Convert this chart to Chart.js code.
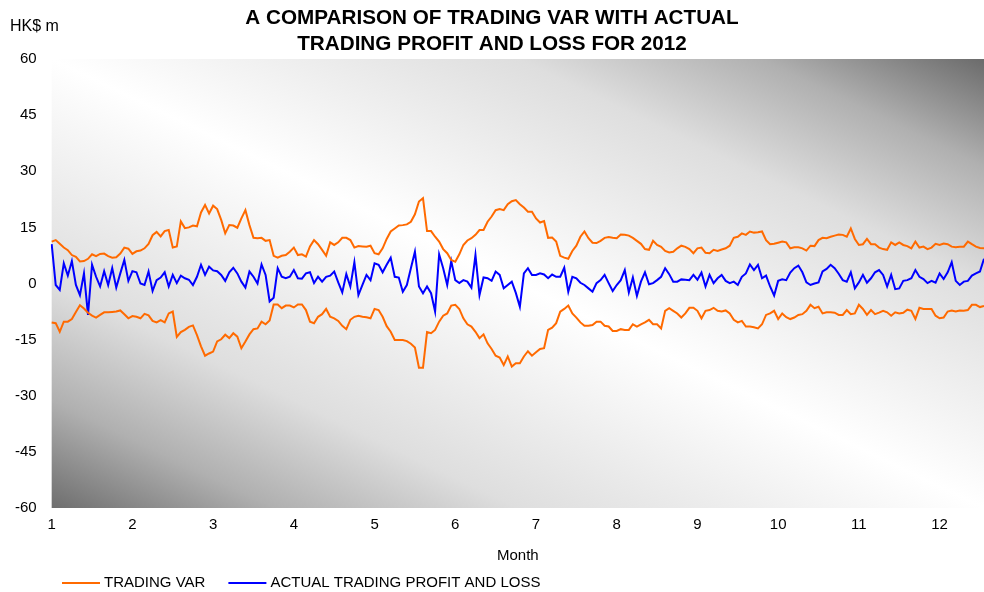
<!DOCTYPE html>
<html>
<head>
<meta charset="utf-8">
<script src="https://cdn.jsdelivr.net/npm/chart.js@4.4.1/dist/chart.umd.min.js"></script>
<style>
  html, body { margin: 0; padding: 0; background: #fff; }
  canvas { display: block; }
</style>
</head>
<body>
<canvas id="varChart" width="984" height="592"></canvas>
<script>
// month tick labels, one every 20 trading days
const monthLabels = ['1', '2', '3', '4', '5', '6', '7', '8', '9', '10', '11', '12'];
const daysPerMonth = 20;

// trading VaR, upper band (HK$ m)
const varHigh = [
  11.2, 11.6, 10.6, 9.6, 8.9, 7.6, 7.1, 5.9, 6.0, 6.6,
  7.8, 7.3, 7.9, 8.0, 7.3, 6.9, 7.0, 8.0, 9.6, 9.3,
  7.9, 8.6, 8.8, 9.4, 10.6, 12.9, 13.8, 12.6, 14.0, 14.3,
  9.6, 9.9, 16.6, 14.8, 15.0, 15.5, 15.3, 19.0, 21.0, 18.7,
  20.8, 19.9, 17.0, 13.4, 15.6, 15.5, 14.9, 17.4, 19.6, 15.6,
  12.2, 12.1, 12.2, 11.4, 11.6, 7.4, 6.9, 7.4, 7.6, 8.5,
  9.6, 7.6, 7.8, 7.2, 9.9, 11.6, 10.5, 9.0, 7.4, 11.0,
  10.3, 11.0, 12.2, 12.2, 11.6, 9.6, 10.0, 9.9, 9.8, 10.1,
  8.1, 7.8, 9.4, 11.9, 13.9, 14.7, 15.5, 15.6, 15.8, 16.5,
  18.5, 21.9, 22.8, 14.0, 14.0, 12.5, 11.2, 9.2, 8.1, 6.3,
  5.8, 7.8, 10.3, 11.5, 12.1, 13.0, 14.3, 14.3, 16.5, 17.9,
  19.6, 19.9, 19.6, 21.2, 22.0, 22.3, 21.2, 20.3, 19.2, 19.2,
  17.4, 16.3, 16.7, 12.2, 12.3, 11.2, 7.4, 6.9, 6.6, 8.7,
  10.1, 12.5, 13.9, 12.1, 10.9, 10.8, 11.4, 12.2, 12.4, 12.2,
  12.1, 13.1, 13.0, 12.8, 12.2, 11.4, 10.6, 9.2, 9.0, 11.4,
  10.3, 9.8, 8.7, 8.3, 8.5, 9.4, 10.1, 9.8, 9.2, 8.1,
  9.4, 9.6, 8.2, 8.1, 9.0, 8.7, 9.1, 9.4, 10.1, 12.2,
  12.5, 13.4, 13.0, 13.9, 13.6, 13.7, 13.9, 11.6, 10.5, 10.6,
  10.9, 11.2, 11.0, 9.4, 9.7, 9.7, 9.4, 8.8, 10.1, 10.0,
  11.6, 12.2, 12.1, 12.5, 12.8, 13.1, 13.0, 12.5, 14.7, 11.9,
  10.3, 10.5, 11.9, 10.5, 10.5, 9.6, 9.2, 9.0, 11.0, 10.3,
  11.0, 10.3, 10.0, 9.4, 11.2, 9.6, 9.85, 9.2, 9.6, 10.6,
  10.3, 10.7, 10.5, 9.85, 9.7, 9.85, 9.85, 11.2, 10.5, 9.85, 9.5, 9.4
];

// trading VaR, lower band (HK$ m)
const varLow = [
  -10.4, -10.6, -12.9, -10.2, -10.2, -9.5, -7.6, -5.8, -6.7, -7.8,
  -8.6, -9.1, -8.4, -7.7, -7.7, -7.6, -7.5, -7.2, -8.2, -9.3,
  -8.7, -8.9, -9.3, -8.1, -8.5, -10.0, -10.4, -9.8, -10.4, -8.0,
  -7.5, -14.3, -13.0, -12.4, -11.6, -11.2, -13.8, -16.8, -19.3, -18.7,
  -18.2, -15.5, -14.9, -13.7, -14.6, -13.3, -14.2, -17.3, -15.5, -13.6,
  -12.2, -12.0, -10.2, -10.9, -9.9, -5.6, -5.6, -6.6, -5.9, -5.9,
  -6.4, -5.6, -5.6, -7.1, -10.2, -10.6, -8.9, -8.2, -6.8, -8.9,
  -9.3, -10.0, -11.3, -12.2, -9.7, -8.9, -8.6, -8.9, -9.0, -9.3,
  -6.8, -7.1, -8.9, -11.4, -12.9, -15.1, -15.1, -15.1, -15.4, -16.1,
  -17.1, -22.5, -22.5, -13.0, -13.3, -12.4, -10.2, -8.6, -8.0, -5.9,
  -5.7, -6.8, -9.3, -10.9, -11.5, -12.9, -14.6, -13.6, -16.0, -17.5,
  -19.3, -19.8, -21.8, -19.5, -22.2, -21.3, -21.3, -19.5, -18.1, -19.3,
  -18.4, -17.5, -17.3, -12.4, -11.8, -10.6, -7.5, -6.8, -5.9, -8.0,
  -9.1, -10.4, -11.3, -11.3, -11.1, -10.2, -10.2, -11.3, -11.5, -12.7,
  -12.7, -12.2, -12.4, -12.4, -10.9, -11.5, -10.9, -10.4, -9.7, -10.9,
  -10.9, -12.0, -7.3, -6.6, -7.3, -8.0, -9.1, -8.0, -6.5, -6.5,
  -7.3, -9.3, -7.3, -7.1, -6.5, -7.3, -7.5, -7.2, -8.0, -9.7,
  -10.4, -10.0, -11.5, -11.5, -11.7, -12.0, -10.9, -8.4, -8.0, -7.3,
  -9.5, -8.0, -9.0, -9.5, -9.1, -8.4, -8.2, -7.3, -5.7, -6.6,
  -6.2, -8.0, -7.7, -7.7, -7.8, -8.4, -8.4, -7.1, -8.2, -8.0,
  -5.7, -6.8, -8.4, -7.1, -8.2, -7.8, -7.3, -7.7, -8.6, -7.7,
  -8.0, -7.8, -7.0, -7.3, -9.5, -6.5, -6.8, -6.8, -6.8, -8.6,
  -9.3, -9.1, -7.5, -7.2, -7.5, -7.2, -7.3, -7.1, -5.7, -5.7, -6.3, -6.0
];

// actual daily trading profit and loss (HK$ m)
const pnl = [
  10.5, -0.4, -1.7, 5.4, 2.1, 6.0, -0.4, -3.1, 2.7, -8.4,
  5.0, 1.8, -0.8, 3.3, -0.4, 4.1, -1.1, 2.7, 6.3, 0.7,
  3.3, 3.0, 0.0, -0.4, 3.2, -2.0, 0.9, 1.6, 3.0, -0.8,
  2.3, 0.1, 2.1, 1.4, 1.0, -0.4, 1.8, 5.0, 2.3, 4.5,
  3.5, 3.3, 2.3, 0.7, 3.0, 4.2, 2.7, 0.5, -1.1, 3.2,
  1.8, 0.0, 5.1, 2.3, -4.8, -3.8, 4.1, 1.8, 1.4, 1.8,
  3.6, 1.4, 1.3, 2.7, 3.0, 0.1, 1.8, 0.5, 1.8, 2.1,
  3.2, 0.3, -2.4, 2.5, -0.8, 5.7, -3.1, -0.4, 2.3, 0.9,
  5.4, 5.0, 3.0, 5.0, 6.9, 1.8, 1.6, -2.2, -0.4, 4.1,
  8.5, -0.8, -2.6, -0.8, -2.6, -7.5, 7.8, 4.1, -0.4, 6.0,
  0.9, 0.1, 0.9, 0.5, -1.1, 7.6, -3.1, 1.6, 1.4, 0.7,
  3.2, 2.3, -1.3, -0.4, 0.5, -2.5, -6.2, 2.7, 4.1, 2.3,
  2.3, 2.7, 2.4, 1.4, 2.4, 1.8, 1.8, 4.2, -2.2, 1.8,
  1.4, 0.2, -0.4, -1.3, -2.2, 0.1, 0.9, 2.3, 0.1, -2.0,
  -0.4, 0.9, 3.6, -2.4, 1.6, -3.3, 0.5, 3.0, -0.2, 0.1,
  0.9, 1.8, 4.1, 2.5, 0.5, 0.5, 1.1, 1.0, 0.9, 2.3,
  1.0, 2.9, -0.8, 2.3, 0.1, 1.4, 2.3, 0.7, 0.1, 0.5,
  -0.4, 1.8, 2.7, 5.1, 3.6, 5.0, 1.4, 2.1, -0.8, -3.2,
  0.7, 1.1, 0.9, 2.9, 4.1, 4.8, 3.0, 0.3, -0.4, 0.0,
  0.3, 3.2, 3.9, 5.0, 4.1, 2.6, 0.9, 0.5, 3.0, -1.3,
  0.3, 2.3, 0.2, 1.4, 3.0, 3.6, 2.3, -0.8, 2.3, -1.5,
  -1.3, 0.7, 0.9, 1.4, 3.6, 1.8, 1.2, 0.1, 0.7, 0.2,
  2.7, 1.2, 3.0, 5.7, 0.7, -0.4, 0.5, 0.7, 2.1, 2.7, 3.2, 6.6
];

const days = varHigh.map((v, i) => i);

const FONT = '"Liberation Sans", Arial, sans-serif';
const ORANGE = '#ff6a00';
const BLUE = '#0000ff';

Chart.defaults.font.family = FONT;
Chart.defaults.color = '#000';

// grey diagonal shading behind the plot
const shading = {
  id: 'shading',
  beforeDraw(chart) {
    const { ctx, chartArea: a } = chart;
    ctx.save();
    ctx.translate(a.left, a.top);
    ctx.scale(a.right - a.left, a.bottom - a.top);
    const g = ctx.createLinearGradient(1, 0, 0, 1);
    g.addColorStop(0, '#6b6b6b');
    g.addColorStop(0.12, '#b0b0b0');
    g.addColorStop(0.25, '#dedede');
    g.addColorStop(0.5, '#ffffff');
    g.addColorStop(0.75, '#dedede');
    g.addColorStop(0.88, '#b0b0b0');
    g.addColorStop(1, '#6e6e6e');
    ctx.fillStyle = g;
    ctx.fillRect(0, 0, 1, 1);
    ctx.restore();
  }
};

// unit label and legend line under the chart
const extras = {
  id: 'extras',
  afterDraw(chart) {
    const ctx = chart.ctx;
    ctx.save();
    ctx.font = '16px ' + FONT;
    ctx.fillStyle = '#000';
    ctx.textBaseline = 'middle';
    ctx.fillText('HK$ m', 10, 27);

    ctx.font = '15px ' + FONT;
    let x = 62;
    const y = 583;
    chart.data.datasets.filter(d => d.legendText).forEach(d => {
      ctx.strokeStyle = d.borderColor;
      ctx.lineWidth = 2;
      ctx.beginPath();
      ctx.moveTo(x, y);
      ctx.lineTo(x + 38, y);
      ctx.stroke();
      x += 42;
      ctx.fillText(d.legendText, x, y);
      x += ctx.measureText(d.legendText).width + 23;
    });
    ctx.restore();
  }
};

new Chart(document.getElementById('varChart'), {
  type: 'line',
  data: {
    labels: days,
    datasets: [
      { label: 'TRADING VAR', legendText: 'TRADING VAR', data: varHigh, borderColor: ORANGE },
      { label: 'TRADING VAR (low)', data: varLow, borderColor: ORANGE },
      { label: 'ACTUAL TRADING PROFIT AND LOSS', legendText: 'ACTUAL TRADING PROFIT AND LOSS', data: pnl, borderColor: BLUE }
    ].map(d => Object.assign({ borderWidth: 2, pointRadius: 0, tension: 0, fill: false }, d))
  },
  options: {
    responsive: false,
    animation: false,
    devicePixelRatio: 1,
    layout: { padding: { left: 0, right: 0, top: 0, bottom: 27 } },
    plugins: {
      legend: { display: false },
      tooltip: { enabled: false },
      title: {
        display: true,
        text: ['A COMPARISON OF TRADING VAR WITH ACTUAL', 'TRADING PROFIT AND LOSS FOR 2012'],
        font: { size: 20.7, weight: 'bold', lineHeight: 1.256 },
        color: '#000',
        padding: { top: 5, bottom: 2 }
      }
    },
    scales: {
      x: {
        type: 'category',
        offset: false,
        grid: { display: false, drawTicks: true, tickLength: 8 },
        border: { display: false },
        ticks: {
          autoSkip: false,
          maxRotation: 0,
          minRotation: 0,
          padding: 0,
          font: { size: 15 },
          callback: (value, index) => index % daysPerMonth === 0 ? monthLabels[index / daysPerMonth] : ''
        },
        title: { display: true, text: 'Month', font: { size: 15 }, padding: { top: 13, bottom: 0 } }
      },
      y: {
        min: -60,
        max: 60,
        grid: { display: false, drawTicks: false },
        border: { display: false },
        ticks: { stepSize: 15, padding: 15, font: { size: 15 } }
      }
    }
  },
  plugins: [shading, extras]
});
</script>
</body>
</html>
